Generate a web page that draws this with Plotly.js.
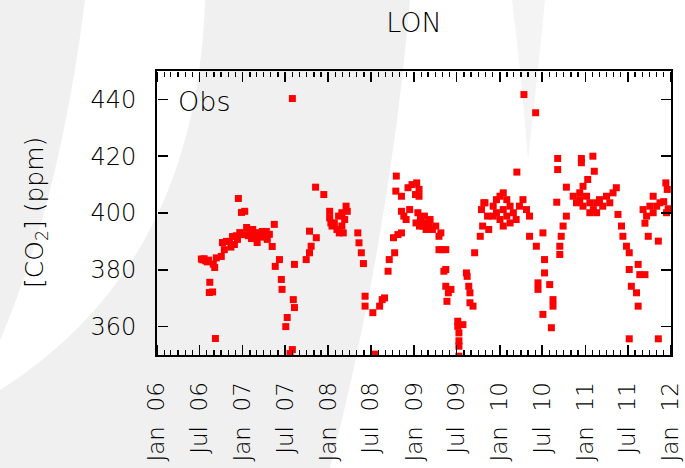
<!DOCTYPE html>
<html>
<head>
<meta charset="utf-8">
<script src="https://cdn.plot.ly/plotly-3.0.1.min.js"></script>
<style>html,body{margin:0;padding:0;background:#fff;}#chart{width:685px;height:468px;}</style>
</head>
<body>
<div id="chart"></div>
<script>
// ---- data ----
var stationName = 'LON';
var seriesName = 'Obs';
var obsDates = [
'2006-07-09','2006-07-15','2006-07-21','2006-07-27','2006-08-03','2006-08-09','2006-08-14','2006-08-12','2006-08-26','2006-08-29',
'2006-09-04','2006-09-07','2006-09-11','2006-10-02','2006-10-07','2006-10-15','2006-10-24','2006-11-06','2006-11-12','2006-11-19',
'2006-11-27','2006-12-05','2006-12-10','2006-12-14','2006-12-20','2006-12-27','2007-01-05','2007-01-10','2007-01-18','2007-01-25',
'2007-02-01','2007-02-08','2007-02-13','2007-02-20','2007-03-01','2007-03-04','2007-03-13','2007-03-20','2007-03-26','2007-04-04',
'2007-04-12','2007-04-16','2007-04-25','2007-05-07','2007-05-16','2007-05-20','2007-06-07','2007-06-15','2007-06-18','2007-07-10',
'2007-07-04','2007-08-01','2007-08-01','2007-07-22','2007-08-05','2007-08-10','2007-08-10',
'2007-09-29','2007-10-13','2007-10-20','2007-10-13','2007-11-11','2007-11-08','2007-12-13','2008-01-07','2008-01-07','2008-01-12',
'2008-01-17','2008-01-27','2008-02-07','2008-02-14','2008-02-17','2008-02-28','2008-02-28','2008-03-11','2008-03-17','2008-03-22',
'2008-03-05','2008-05-06','2008-05-11','2008-05-21','2008-05-30','2008-06-06','2008-06-06','2008-07-09','2008-07-16','2008-08-07',
'2008-08-18','2008-08-28','2008-09-12','2008-09-17','2008-10-05','2008-10-10','2008-10-15','2008-10-17','2008-10-24','2008-11-08',
'2008-11-08','2008-11-08','2008-11-18','2008-11-28','2008-12-06','2008-12-13','2008-12-23','2009-01-07','2009-01-09','2009-01-12',
'2009-01-22','2009-01-22','2009-01-17','2009-01-24','2009-01-28','2009-02-07','2009-02-14','2009-02-21','2009-02-21','2009-03-06',
'2009-03-10','2009-03-20','2009-04-03','2009-04-17','2009-04-17','2009-04-25','2009-05-01','2009-05-08','2009-05-16','2009-05-16',
'2009-05-16','2009-05-21','2009-05-27','2009-06-07','2009-07-06','2009-07-06','2009-07-11','2009-07-11','2009-07-11','2009-07-11',
'2009-07-28','2009-08-12','2009-08-15','2009-08-22','2009-08-27','2009-08-27','2009-09-09','2009-09-16','2009-10-10','2009-10-15',
'2009-10-20','2009-10-25','2009-10-30','2009-11-10','2009-11-15','2009-12-04','2009-12-04','2009-12-18','2009-12-18','2010-01-02',
'2010-01-02','2010-01-16','2010-01-16','2010-01-16','2010-01-31','2010-01-31','2010-02-14','2010-02-14','2010-02-28','2010-03-12',
'2010-03-15','2010-03-26','2010-04-10','2010-04-14','2010-04-25','2010-05-08','2010-05-08','2010-06-03','2010-06-06','2010-06-13',
'2010-06-13','2010-07-04','2010-07-04','2010-07-11','2010-07-11','2010-08-02','2010-08-09','2010-08-16','2010-08-16','2010-09-01',
'2010-09-05','2010-09-05','2010-09-14','2010-09-14','2010-09-20','2010-09-28','2010-10-12','2010-10-12','2010-11-10','2010-11-24',
'2010-12-08','2010-12-08','2010-12-15','2010-12-15','2010-12-22','2010-12-22','2011-01-06','2011-01-11','2011-01-20','2011-01-20',
'2011-02-02','2011-02-04','2011-02-08','2011-02-18','2011-02-18','2011-03-02','2011-03-16','2011-04-01','2011-04-15','2011-04-29',
'2011-05-13','2011-05-20','2011-06-04','2011-06-10','2011-06-25','2011-07-07','2011-07-07','2011-07-07','2011-07-16','2011-08-07',
'2011-08-14','2011-08-14','2011-08-21','2011-09-04','2011-09-12','2011-09-12','2011-09-19','2011-09-26','2011-10-03','2011-10-17',
'2011-10-17','2011-11-01','2011-11-08','2011-11-08','2011-11-15','2011-12-01','2011-12-10','2011-12-16','2011-12-13','2011-12-20'
];
var obsCO2 = [
383.8,383.5,383.9,383.2,382.8,383.4,375.6,372.0,372.2,382.0,
380.8,355.8,384.2,384.7,389.6,387.1,390.0,390.0,388.0,391.7,
388.9,392.0,390.7,405.1,393.1,400.2,392.4,400.6,394.9,392.0,
393.1,391.0,394.2,392.6,391.7,389.6,393.1,391.5,393.5,391.7,
393.5,390.7,392.5,388.2,396.0,381.2,383.6,376.6,373.1,363.2,
360.0,440.3,351.9,350.5,369.5,366.7,381.9,
383.6,386.0,388.3,393.6,391.3,409.1,406.5,400.6,398.3,396.5,
395.4,396.5,394.2,398.9,393.0,395.4,400.1,397.7,402.4,400.6,
393.0,393.0,389.5,386.0,382.2,370.7,367.2,364.9,350.3,367.2,
369.5,370.1,379.5,383.6,391.3,386.0,407.7,413.0,392.4,393.0,
405.9,400.6,398.9,397.7,408.9,401.2,410.0,406.5,396.5,410.6,
408.3,405.9,400.1,395.4,397.7,395.4,398.9,396.5,394.2,396.5,
397.7,394.2,395.4,391.8,387.1,393.0,387.1,379.5,387.1,374.2,
380.1,368.9,371.9,373.1,361.9,360.1,357.8,355.0,353.1,349.6,
360.7,378.9,377.7,374.2,371.9,368.4,367.2,386.0,391.8,401.2,
395.4,403.6,403.6,398.9,394.2,402.4,398.9,404.7,400.1,405.9,
397.7,407.1,401.2,395.4,404.7,398.9,402.4,396.5,400.1,397.7,
414.4,402.4,404.7,441.7,401.2,398.9,391.8,435.3,388.3,375.4,
373.1,393.0,364.3,383.6,378.9,374.8,359.6,369.5,367.2,403.8,
419.2,415.3,388.3,385.4,391.8,395.4,398.9,409.1,405.9,403.6,
404.7,407.1,419.2,417.7,402.4,409.4,405.9,411.8,403.6,400.1,
420.0,401.2,414.7,403.6,400.1,404.7,402.4,405.9,403.6,407.1,
408.9,399.5,395.4,391.8,388.3,386.0,380.1,355.7,374.2,371.9,
381.9,367.2,378.3,401.2,378.3,396.4,398.9,391.8,402.4,400.1,
405.9,402.4,390.1,355.7,403.6,404.0,410.6,408.3,400.1,401.5
];
var xRange = ['2006-01-01', '2012-01-01'];
var yRange = [350, 450];
var yTicks = [360, 380, 400, 420, 440];

(function(){
  var figW = 685, figH = 468, mL = 157, mR = 14, mT = 71, mB = 113;
  var plotW = figW - mL - mR, plotH = figH - mT - mB;
  function toPaperX(v){ return (v - mL) / plotW; }
  function toPaperY(v){ return (figH - mB - v) / plotH; }
  function pathFromPx(cmds){
    return cmds.map(function(c){
      var s = c[0];
      for (var i = 1; i < c.length; i += 2) s += toPaperX(c[i]).toFixed(4) + ',' + toPaperY(c[i+1]).toFixed(4) + ' ';
      return s.trim();
    }).join(' ');
  }
  var wmA = pathFromPx([['M',0,0],['L',85,0],['Q',60,200,0,340],['Z']]);
  var wmB = pathFromPx([['M',205,0],['L',410,0],['Q',390,234,330,468],['L',0,468],['L',0,390],['Q',197,265,205,0],['Z']]);
  var wmC = pathFromPx([['M',512,0],['L',545,0],['Q',535,100,528,160],['Q',522,80,512,0],['Z']]);

  var fontFam = 'DejaVu Sans, Liberation Sans, sans-serif';

  var obsTrace = {
    type: 'scatter', mode: 'markers', name: seriesName,
    x: obsDates, y: obsCO2,
    marker: {symbol: 'square', size: 7, color: '#ff0000'},
    showlegend: false
  };
  // empty traces that only carry the tick-only frame axes
  var frameBL = {type: 'scatter', mode: 'markers', x: [], y: [], xaxis: 'x2', yaxis: 'y2', showlegend: false, hoverinfo: 'skip'};
  var frameTR = {type: 'scatter', mode: 'markers', x: [], y: [], xaxis: 'x3', yaxis: 'y3', showlegend: false, hoverinfo: 'skip'};

  function xTickAxis(pos, side){
    return {type: 'date', overlaying: 'x', anchor: 'free', position: pos, side: side, range: xRange,
      tick0: '2006-01-01', dtick: 'M6', ticks: 'outside', ticklen: 10, tickwidth: 1.6, tickcolor: '#000',
      minor: {dtick: 'M1', ticks: 'outside', ticklen: 5, tickwidth: 1.3, tickcolor: '#000', showgrid: false},
      showticklabels: false, showline: false, showgrid: false, zeroline: false};
  }
  function yTickAxis(pos, side){
    return {overlaying: 'y', anchor: 'free', position: pos, side: side, range: yRange, tickvals: yTicks,
      ticks: 'outside', ticklen: 10, tickwidth: 1.6, tickcolor: '#000',
      showticklabels: false, showline: false, showgrid: false, zeroline: false};
  }

  var figLayout = {
    width: figW, height: figH,
    margin: {l: mL, r: mR, t: mT, b: mB},
    paper_bgcolor: '#ffffff', plot_bgcolor: 'rgba(0,0,0,0)',
    font: {family: fontFam, size: 23, color: '#000'},
    title: {text: stationName, x: 0.5, xref: 'paper', xanchor: 'center', y: 1 - 23 / figH, yref: 'container', yanchor: 'middle',
            font: {family: fontFam, size: 27, color: '#000', weight: 200}},
    xaxis: {
      type: 'date', range: xRange, tick0: '2006-01-01', dtick: 'M6', tickformat: '%b\u00a0\u00a0%y', tickangle: -90,
      ticks: '', showline: true, linewidth: 2, linecolor: '#000', mirror: true,
      showgrid: false, zeroline: false, ticklabelstandoff: 16,
      tickfont: {family: fontFam, size: 23, color: '#000', weight: 200}
    },
    yaxis: {
      range: yRange, tickvals: yTicks,
      ticks: '', showline: true, linewidth: 2, linecolor: '#000', mirror: true,
      showgrid: false, zeroline: false, ticklabelstandoff: 14,
      tickfont: {family: fontFam, size: 24, color: '#000', weight: 200}
    },
    xaxis2: xTickAxis(0, 'top'),
    xaxis3: xTickAxis(1, 'bottom'),
    yaxis2: yTickAxis(0, 'right'),
    yaxis3: yTickAxis(1, 'left'),
    annotations: [
      {text: '[CO<sub>2</sub>] (ppm)', xref: 'paper', yref: 'paper', x: toPaperX(36), y: 0.5, textangle: -90,
       xanchor: 'center', yanchor: 'middle', showarrow: false, font: {family: fontFam, size: 25, color: '#000', weight: 200}},
      {text: seriesName, xref: 'paper', yref: 'paper', x: toPaperX(176), y: toPaperY(101), xanchor: 'left', yanchor: 'middle',
       showarrow: false, font: {family: fontFam, size: 27, color: '#000', weight: 200}}
    ],
    shapes: [
      {type: 'path', xref: 'paper', yref: 'paper', path: wmA, fillcolor: '#f0f0f0', line: {width: 0}, layer: 'below'},
      {type: 'path', xref: 'paper', yref: 'paper', path: wmB, fillcolor: '#f0f0f0', line: {width: 0}, layer: 'below'},
      {type: 'path', xref: 'paper', yref: 'paper', path: wmC, fillcolor: '#f4f4f4', line: {width: 0}, layer: 'below'}
    ],
    showlegend: false
  };

  Plotly.newPlot('chart', [obsTrace, frameBL, frameTR], figLayout, {displayModeBar: false, staticPlot: true});
})();
</script>
</body>
</html>
